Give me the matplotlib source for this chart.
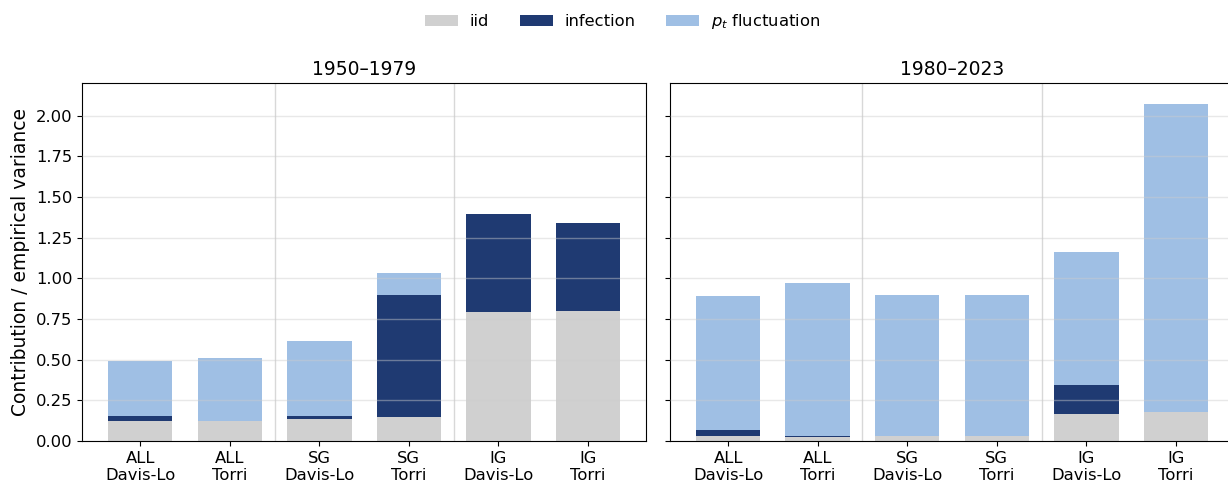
import numpy as np
import matplotlib
matplotlib.use("Agg")
import matplotlib.pyplot as plt

labels = ["ALL\nDavis-Lo", "ALL\nTorri", "SG\nDavis-Lo", "SG\nTorri", "IG\nDavis-Lo", "IG\nTorri"]
periods = ["1950\u20131979", "1980\u20132023"]

# segment heights (contribution / empirical variance)
iid_early = [0.120, 0.122, 0.138, 0.145, 0.794, 0.800]
inf_early = [0.031, 0.003, 0.013, 0.753, 0.603, 0.542]
pt_early = [0.341, 0.385, 0.464, 0.136, 0.0, 0.0]

iid_late = [0.033, 0.027, 0.033, 0.033, 0.163, 0.176]
inf_late = [0.037, 0.006, 0.0, 0.0, 0.180, 0.0]
pt_late = [0.822, 0.939, 0.865, 0.865, 0.820, 1.898]

c_iid = "#d0d0d0"
c_inf = "#1f3a72"
c_pt = "#9fbfe4"

fig = plt.figure(figsize=(12.28, 4.84), dpi=100)
ax1 = fig.add_axes([0.0668, 0.0888, 0.4593, 0.7397])
ax2 = fig.add_axes([0.5456, 0.0888, 0.4593, 0.7397], sharey=ax1)

data = [(iid_early, inf_early, pt_early), (iid_late, inf_late, pt_late)]
x = np.arange(len(labels))
w = 0.72
for ax, title, (iid, inf, pt) in zip([ax1, ax2], periods, data):
    iid = np.array(iid)
    inf = np.array(inf)
    pt = np.array(pt)
    ax.bar(x, iid, w, color=c_iid, label="iid")
    ax.bar(x, inf, w, bottom=iid, color=c_inf, label="infection")
    ax.bar(x, pt, w, bottom=iid + inf, color=c_pt, label="$p_t$ fluctuation")
    for sep in [1.5, 3.5]:
        ax.axvline(sep, color="#d8d8d8", lw=1, zorder=0)
    ax.set_axisbelow(False)
    ax.yaxis.grid(True, color="#cccccc", alpha=0.45, lw=1)
    ax.set_xticks(x)
    ax.set_xticklabels(labels, fontsize=11.8)
    ax.set_xlim(-0.65, 5.65)
    ax.set_title(title, fontsize=13.5)
    ax.tick_params(axis="y", labelsize=11.8)

ax1.set_ylim(0, 2.2)
ax1.set_yticks(np.arange(0, 2.01, 0.25))
ax1.set_ylabel("Contribution / empirical variance", fontsize=13.5)
plt.setp(ax2.get_yticklabels(), visible=False)

handles, labs = ax1.get_legend_handles_labels()
fig.legend(handles, labs, loc="upper center", bbox_to_anchor=(0.507, 1.005), ncol=3,
           frameon=False, fontsize=11.8, handlelength=2.0, handletextpad=0.7,
           columnspacing=1.9)

fig.savefig("out.png", dpi=100)
